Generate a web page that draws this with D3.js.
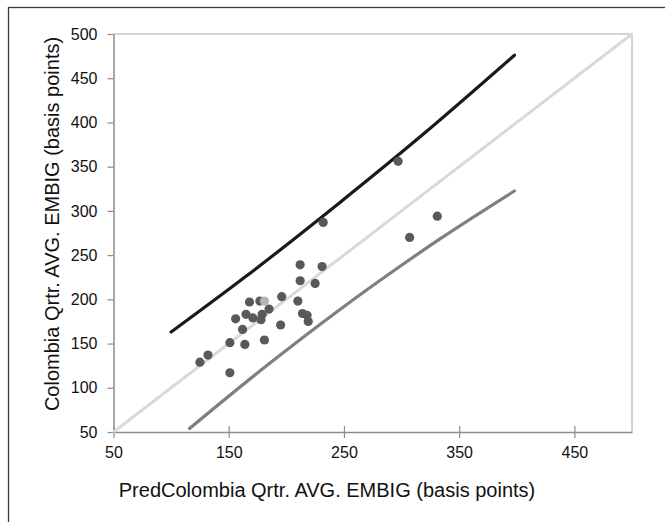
<!DOCTYPE html>
<html><head><meta charset="utf-8">
<script src="https://cdn.jsdelivr.net/npm/d3@7"></script>
<style>body{margin:0;background:#fff}svg{display:block}</style>
</head><body>
<script>
const xTicks = [50, 150, 250, 350, 450];
const yTicks = [50, 100, 150, 200, 250, 300, 350, 400, 450, 500];
const predX = [232,212,231,212,225,196,210,168,177,185,179,165,171,178,156,214,218,219,195,162,151,164,181,132,125,151,297,331,307];
const actualY = [287,239,237,221,218,203,198,197,198,189,183,183,179,177,178,184,182,175,171,166,151,149,154,137,129,117,356,294,270];
const highlightX = [181];
const highlightY = [198];
const upperX = [100,165,246,320,398];
const upperY = [163,226,309,388,476];
const lowerX = [116,180,246,300,333,398];
const lowerY = [54,122,188,238.5,268,322.5];
const diagX = [50,500];
const diagY = [50,500];

const W=665,H=522;
const svg=d3.select("body").append("svg").attr("width",W).attr("height",H);
svg.append("rect").attr("x",8.5).attr("y",7.5).attr("width",W+5).attr("height",H+5)
  .attr("fill","none").attr("stroke","#3a3a3a").attr("stroke-width",1.3);

const x=d3.scaleLinear().domain([50,500]).range([113.5,632]);
const y=d3.scaleLinear().domain([50,500]).range([432,34]);

svg.append("path").attr("d",`M${x(50)},${y(500)}H${x(500)}V${y(50)}`)
  .attr("fill","none").attr("stroke","#d4d4d4").attr("stroke-width",2);

const font="'Liberation Sans', Arial, sans-serif";
const gx=svg.append("g").attr("transform",`translate(0,${y(50)})`)
  .call(d3.axisBottom(x).tickValues(xTicks).tickSize(6).tickSizeOuter(0).tickPadding(9));
const gy=svg.append("g").attr("transform",`translate(${x(50)},0)`)
  .call(d3.axisLeft(y).tickValues(yTicks).tickSize(6).tickSizeOuter(0).tickPadding(10));
[gx,gy].forEach(g=>{
  g.select(".domain").attr("stroke","#8c8c8c").attr("stroke-width",1.5);
  g.selectAll(".tick line").attr("stroke","#8c8c8c").attr("stroke-width",1.2);
  g.selectAll(".tick text").attr("fill","#111").style("font-family",font).style("font-size","16px");
});
gx.selectAll(".tick line").attr("y1",-6).attr("y2",6);

const line=d3.line().x(d=>x(d[0])).y(d=>y(d[1]));
svg.append("path").datum(diagX.map((v,i)=>[v,diagY[i]])).attr("d",line)
  .attr("fill","none").attr("stroke","#d9d9d9").attr("stroke-width",3);
const cl=d3.line().x(d=>x(d[0])).y(d=>y(d[1])).curve(d3.curveMonotoneX);
svg.append("path").datum(lowerX.map((v,i)=>[v,lowerY[i]])).attr("d",cl)
  .attr("fill","none").attr("stroke","#7f7f7f").attr("stroke-width",3.2).attr("stroke-linecap","round");
svg.append("path").datum(upperX.map((v,i)=>[v,upperY[i]])).attr("d",cl)
  .attr("fill","none").attr("stroke","#1a1a1a").attr("stroke-width",3.2).attr("stroke-linecap","round");

svg.append("g").selectAll("circle").data(predX.map((v,i)=>[v,actualY[i]])).join("circle")
  .attr("cx",d=>x(d[0])).attr("cy",d=>y(d[1])).attr("r",4.6).attr("fill","#595959");
svg.append("g").selectAll("circle").data(highlightX.map((v,i)=>[v,highlightY[i]])).join("circle")
  .attr("cx",d=>x(d[0])).attr("cy",d=>y(d[1])).attr("r",4.6).attr("fill","#b3b3b3");

svg.append("text").attr("x",327).attr("y",497).attr("text-anchor","middle")
  .style("font-family",font).style("font-size","20px").attr("fill","#111")
  .text("PredColombia Qrtr. AVG. EMBIG (basis points)");
svg.append("text").attr("transform",`translate(59,224) rotate(-90)`).attr("text-anchor","middle")
  .style("font-family",font).style("font-size","20px").attr("fill","#111")
  .text("Colombia Qrtr. AVG. EMBIG (basis points)");
</script>
</body></html>
